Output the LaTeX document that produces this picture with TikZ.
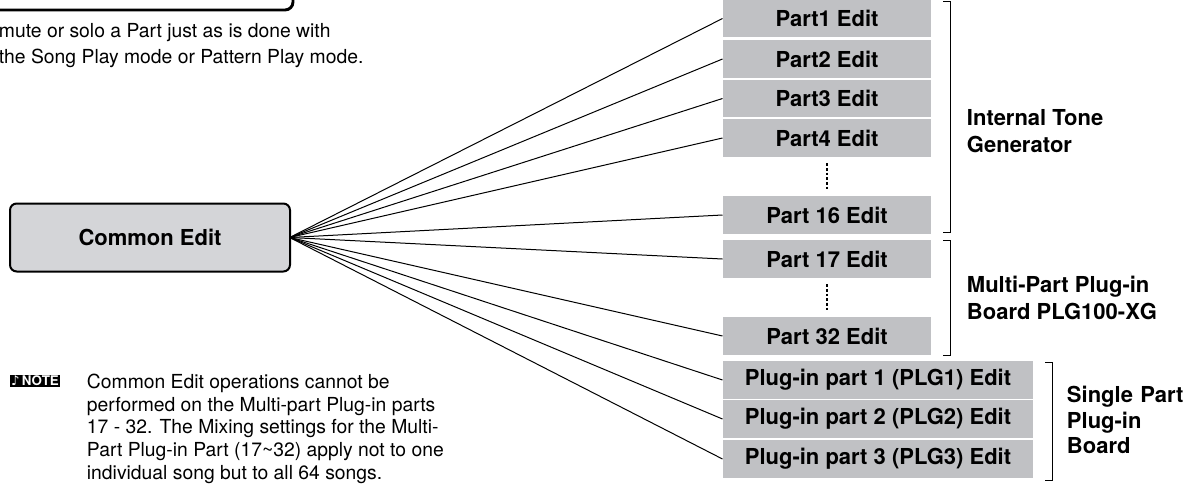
\documentclass[tikz,border=0pt]{standalone}
\usepackage{fontspec}
\setmainfont{TeX Gyre Heros}
\newfontfamily\symfont{DejaVu Sans}
\tikzset{every picture/.style={line width=0.75pt}}
\definecolor{partgray}{RGB}{192,193,196}
\definecolor{commongray}{RGB}{212,213,216}
\tikzset{
  part/.style={fill=partgray, minimum width=156pt, minimum height=28pt, inner sep=0pt, font=\bfseries\fontsize{16.5}{19}\selectfont},
  plug/.style={part, minimum width=232.5pt},
  grp/.style={font=\bfseries\fontsize{16.5}{20}\selectfont, align=left, anchor=west},
  note/.style={font=\fontsize{14.5}{17}\selectfont, align=left, anchor=north west}
}
\begin{document}
\begin{tikzpicture}[x=0.75pt,y=0.75pt,yscale=-1,xscale=1]
	\useasboundingbox (0,0) rectangle (1187,485);

	% top box (cut off)
	\draw [line width=2.2pt, rounded corners=6pt] (-20,-30) rectangle (293,10);
	\node [note, anchor=west] (tx1) at (-6,33) {mute or solo a Part just as is done with};
	\node [note, anchor=west] (tx2) at (-6,58) {the Song Play mode or Pattern Play mode.};

	% common edit
	\node [draw, line width=1.5pt, rounded corners=5pt, fill=commongray, minimum width=210pt, minimum height=51pt, font=\bfseries\fontsize{16.5}{19}\selectfont] (ce) at (150,237.5) {Common Edit};

	% part boxes
	\node [part] (p1) at (827,18.5) {Part1 Edit};
	\node [part] (p2) at (827,59) {Part2 Edit};
	\node [part] (p3) at (827,98.5) {Part3 Edit};
	\node [part] (p4) at (827,138) {Part4 Edit};
	\node [part] (p16) at (827,215) {Part 16 Edit};
	\node [part] (p17) at (827,259) {Part 17 Edit};
	\node [part] (p32) at (827,336) {Part 32 Edit};
	\node [plug] (g1) at (878,380) {Plug-in part 1 (PLG1) Edit};
	\node [plug] (g2) at (878,419) {Plug-in part 2 (PLG2) Edit};
	\node [plug] (g3) at (878,459) {Plug-in part 3 (PLG3) Edit};

	% dots
	\draw [line width=2pt, dash pattern={on 2pt off 1.5pt}] (p4.south) ++(0,6) -- ++(0,28);
	\draw [line width=2pt, dash pattern={on 2pt off 1.5pt}] (p17.south) ++(0,6) -- ++(0,28);

	% connectors
	\foreach \n in {p1,p2,p3,p4,p16,p17,p32,g1,g2,g3}
		\draw ([xshift=-1pt]ce.east) -- (\n.west);

	% brackets
	\draw (943,2) -- (950,2) -- (950,232) -- (943,232);
	\draw (943,240) -- (950,240) -- (950,355) -- (943,355);
	\draw (1045,362) -- (1052,362) -- (1052,480) -- (1045,480);
	\node [grp] (itg) at (962,131) {Internal Tone\\Generator};
	\node [grp] (mpb) at (962,298) {Multi-Part Plug-in\\Board PLG100-XG};
	\node [grp, text width=100pt, font=\bfseries\fontsize{16.5}{19}\selectfont] (spb) at (1062,420) {Single Part\\Plug-in\\Board};

	% note
	\node [fill=black, text=white, inner sep=1pt, font=\bfseries\fontsize{10}{11}\selectfont] (nt) at (35,381) {{\symfont\char"266A}\,NOTE};
	\node [note] (nb) at (82,369) {Common Edit operations cannot be\\performed on the Multi-part Plug-in parts\\17 - 32. The Mixing settings for the Multi-\\Part Plug-in Part (17\char`~32) apply not to one\\individual song but to all 64 songs.};
\end{tikzpicture}
\end{document}
